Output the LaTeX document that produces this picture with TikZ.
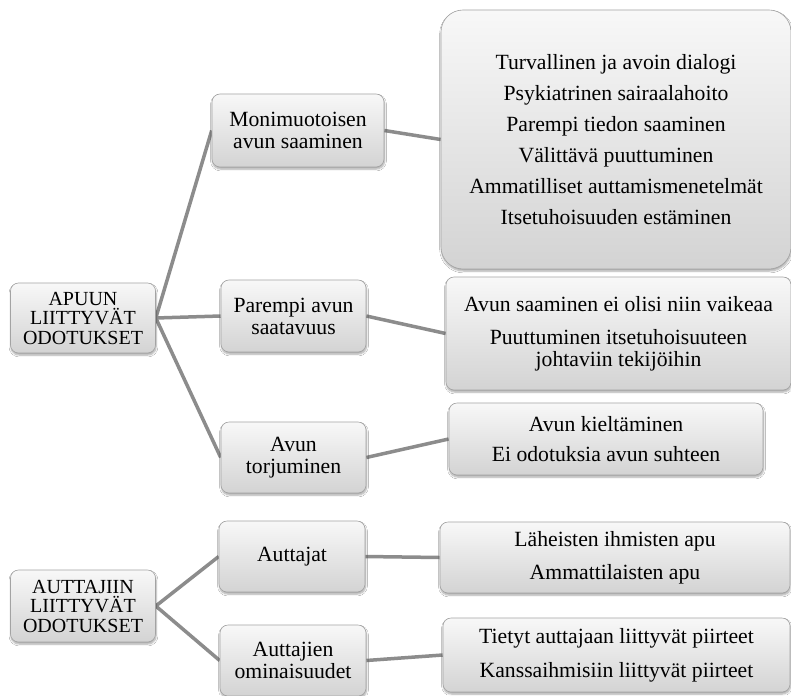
\documentclass[tikz,border=0pt]{standalone}
\usepackage{fontspec}
\setmainfont{Liberation Serif}
\usetikzlibrary{backgrounds,shadows.blur}
\definecolor{linkgray}{HTML}{8C8C8C}
\definecolor{edgegray}{HTML}{A3A3A3}
\definecolor{boxtop}{HTML}{F8F8F8}
\definecolor{boxbottom}{HTML}{D3D3D3}

\begin{document}
\begin{tikzpicture}[
  x=1pt,y=1pt,
  box/.style={draw=edgegray,line width=0.6pt,rounded corners=8pt,align=center,
              top color=boxtop,bottom color=boxbottom,inner sep=0pt,
              font=\fontsize{21.7}{22}\selectfont,
              blur shadow={shadow xshift=0.5pt,shadow yshift=-2pt,
                           shadow blur steps=6,shadow opacity=35}},
  root/.style={box,font=\fontsize{20}{19.5}\selectfont},
  topic/.style={box},
  detail/.style={box},
  link/.style={draw=linkgray,line width=3.5pt}
]
\path[use as bounding box] (0,0) rectangle (791,-695);

% juuret
\node[root,minimum width=145,minimum height=70] (apu) at (83,-318) {APUUN\\LIITTYVÄT\\ODOTUKSET};
\node[root,minimum width=145,minimum height=72] (aut) at (83,-606) {AUTTAJIIN\\LIITTYVÄT\\ODOTUKSET};

% toinen taso
\node[topic,minimum width=172,minimum height=73] (mono) at (298,-130.5) {Monimuotoisen\\avun saaminen};
\node[topic,minimum width=145,minimum height=72] (saat) at (293.5,-316) {Parempi avun\\saatavuus};
\node[topic,minimum width=145,minimum height=71] (torj) at (293.5,-457.5) {Avun\\torjuminen};
\node[topic,minimum width=146,minimum height=71] (autt) at (292,-556.5) {Auttajat};
\node[topic,minimum width=146,minimum height=71] (omin) at (293,-660.5) {Auttajien\\ominaisuudet};

% kolmas taso
\node[detail,rounded corners=22pt,minimum width=350,minimum height=259] (monix) at (616,-139.5)
  {Turvallinen ja avoin dialogi\\[9pt]Psykiatrinen sairaalahoito\\[9pt]Parempi tiedon saaminen\\[9pt]%
   Välittävä puuttuminen\\[9pt]Ammatilliset auttamismenetelmät\\[9pt]Itsetuhoisuuden estäminen};
\node[detail,minimum width=345,minimum height=113] (saatx) at (618.5,-333.5)
  {Avun saaminen ei olisi niin vaikeaa\\[11pt]Puuttuminen itsetuhoisuuteen\\johtaviin tekijöihin};
\node[detail,minimum width=314,minimum height=72] (torjx) at (606,-439)
  {Avun kieltäminen\\[8pt]Ei odotuksia avun suhteen};
\node[detail,minimum width=350,minimum height=71] (auttx) at (615,-557.5)
  {Läheisten ihmisten apu\\[11pt]Ammattilaisten apu};
\node[detail,minimum width=347,minimum height=74] (ominx) at (616.5,-655)
  {Tietyt auttajaan liittyvät piirteet\\[12pt]Kanssaihmisiin liittyvät piirteet};

\begin{scope}[on background layer]
\fill[white] (0,0) rectangle (791,-695);
\draw[link] (apu.east) -- (mono.west);
\draw[link] (apu.east) -- (saat.west);
\draw[link] (apu.east) -- (torj.west);
\draw[link] (aut.east) -- (autt.west);
\draw[link] (aut.east) -- (omin.west);
\draw[link] (mono.east) -- (monix.west);
\draw[link] (saat.east) -- (saatx.west);
\draw[link] (torj.east) -- (torjx.west);
\draw[link] (autt.east) -- (auttx.west);
\draw[link] (omin.east) -- (ominx.west);
\end{scope}
\end{tikzpicture}
\end{document}
